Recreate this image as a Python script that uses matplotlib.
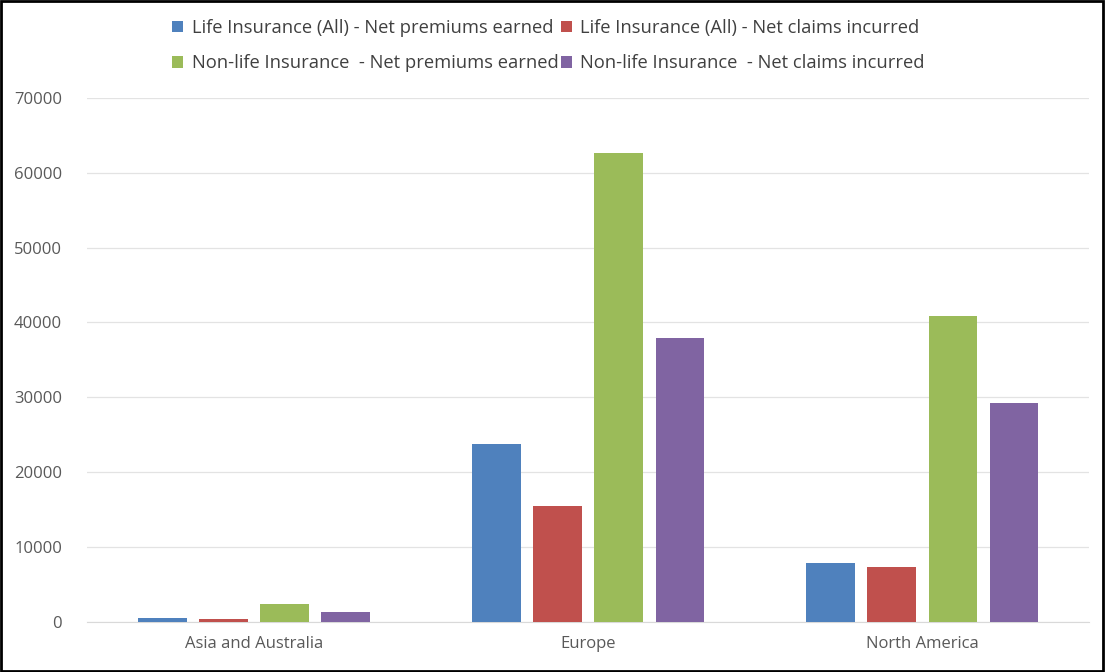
import numpy as np
import matplotlib.pyplot as plt
from matplotlib.patches import Rectangle

regions = ['Asia and Australia', 'Europe', 'North America']
series = ['Life Insurance (All) - Net premiums earned',
          'Life Insurance (All) - Net claims incurred',
          'Non-life Insurance  - Net premiums earned',
          'Non-life Insurance  - Net claims incurred']
life_premiums = [500, 23800, 7850]
life_claims = [450, 15500, 7400]
nonlife_premiums = [2400, 62700, 40900]
nonlife_claims = [1380, 37900, 29200]
colors = ['#4f81bd', '#c0504d', '#9bbb59', '#8064a2']

plt.rcParams['font.family'] = ['Open Sans', 'DejaVu Sans']

fig = plt.figure(figsize=(11.05, 6.72), dpi=100)
ax = fig.add_axes([0.0787, 0.0744, 0.907, 0.78])

x = np.arange(len(regions))
width = 0.145
pitch = 0.183
values = [life_premiums, life_claims, nonlife_premiums, nonlife_claims]
bars = []
for i, (vals, name, c) in enumerate(zip(values, series, colors)):
    bars.append(ax.bar(x + (i - 1.5) * pitch, vals, width, color=c, label=name, zorder=3))

ax.set_xlim(-0.5, 2.5)
ax.set_ylim(0, 70000)
ax.set_yticks(range(0, 70001, 10000))
ax.set_xticks(x)
ax.set_xticklabels(regions)
ax.tick_params(axis='both', length=0, colors='#595959', labelsize=12)
ax.tick_params(axis='y', pad=18)
ax.tick_params(axis='x', pad=10)
ax.grid(axis='y', color='#e3e3e3', linewidth=0.9, zorder=0)
for s in ['top', 'right', 'left']:
    ax.spines[s].set_visible(False)
ax.spines['bottom'].set_color('#d9d9d9')

# Legend on top, filled row by row
order = [0, 2, 1, 3]
leg = fig.legend([bars[i] for i in order], [series[i] for i in order],
                 loc='center', bbox_to_anchor=(0.4964, 0.932), ncol=2, frameon=False,
                 fontsize=13.2, handlelength=0.6, handleheight=0.6, handletextpad=0.45,
                 columnspacing=0.15, labelspacing=0.95)
for t in leg.get_texts():
    t.set_color('#404040')

# Border around the figure
fig.patches.append(Rectangle((0.001, 0.001), 0.997, 0.997, transform=fig.transFigure,
                             fill=False, edgecolor='black', linewidth=2))

plt.savefig('out.png', dpi=100)
plt.close()
